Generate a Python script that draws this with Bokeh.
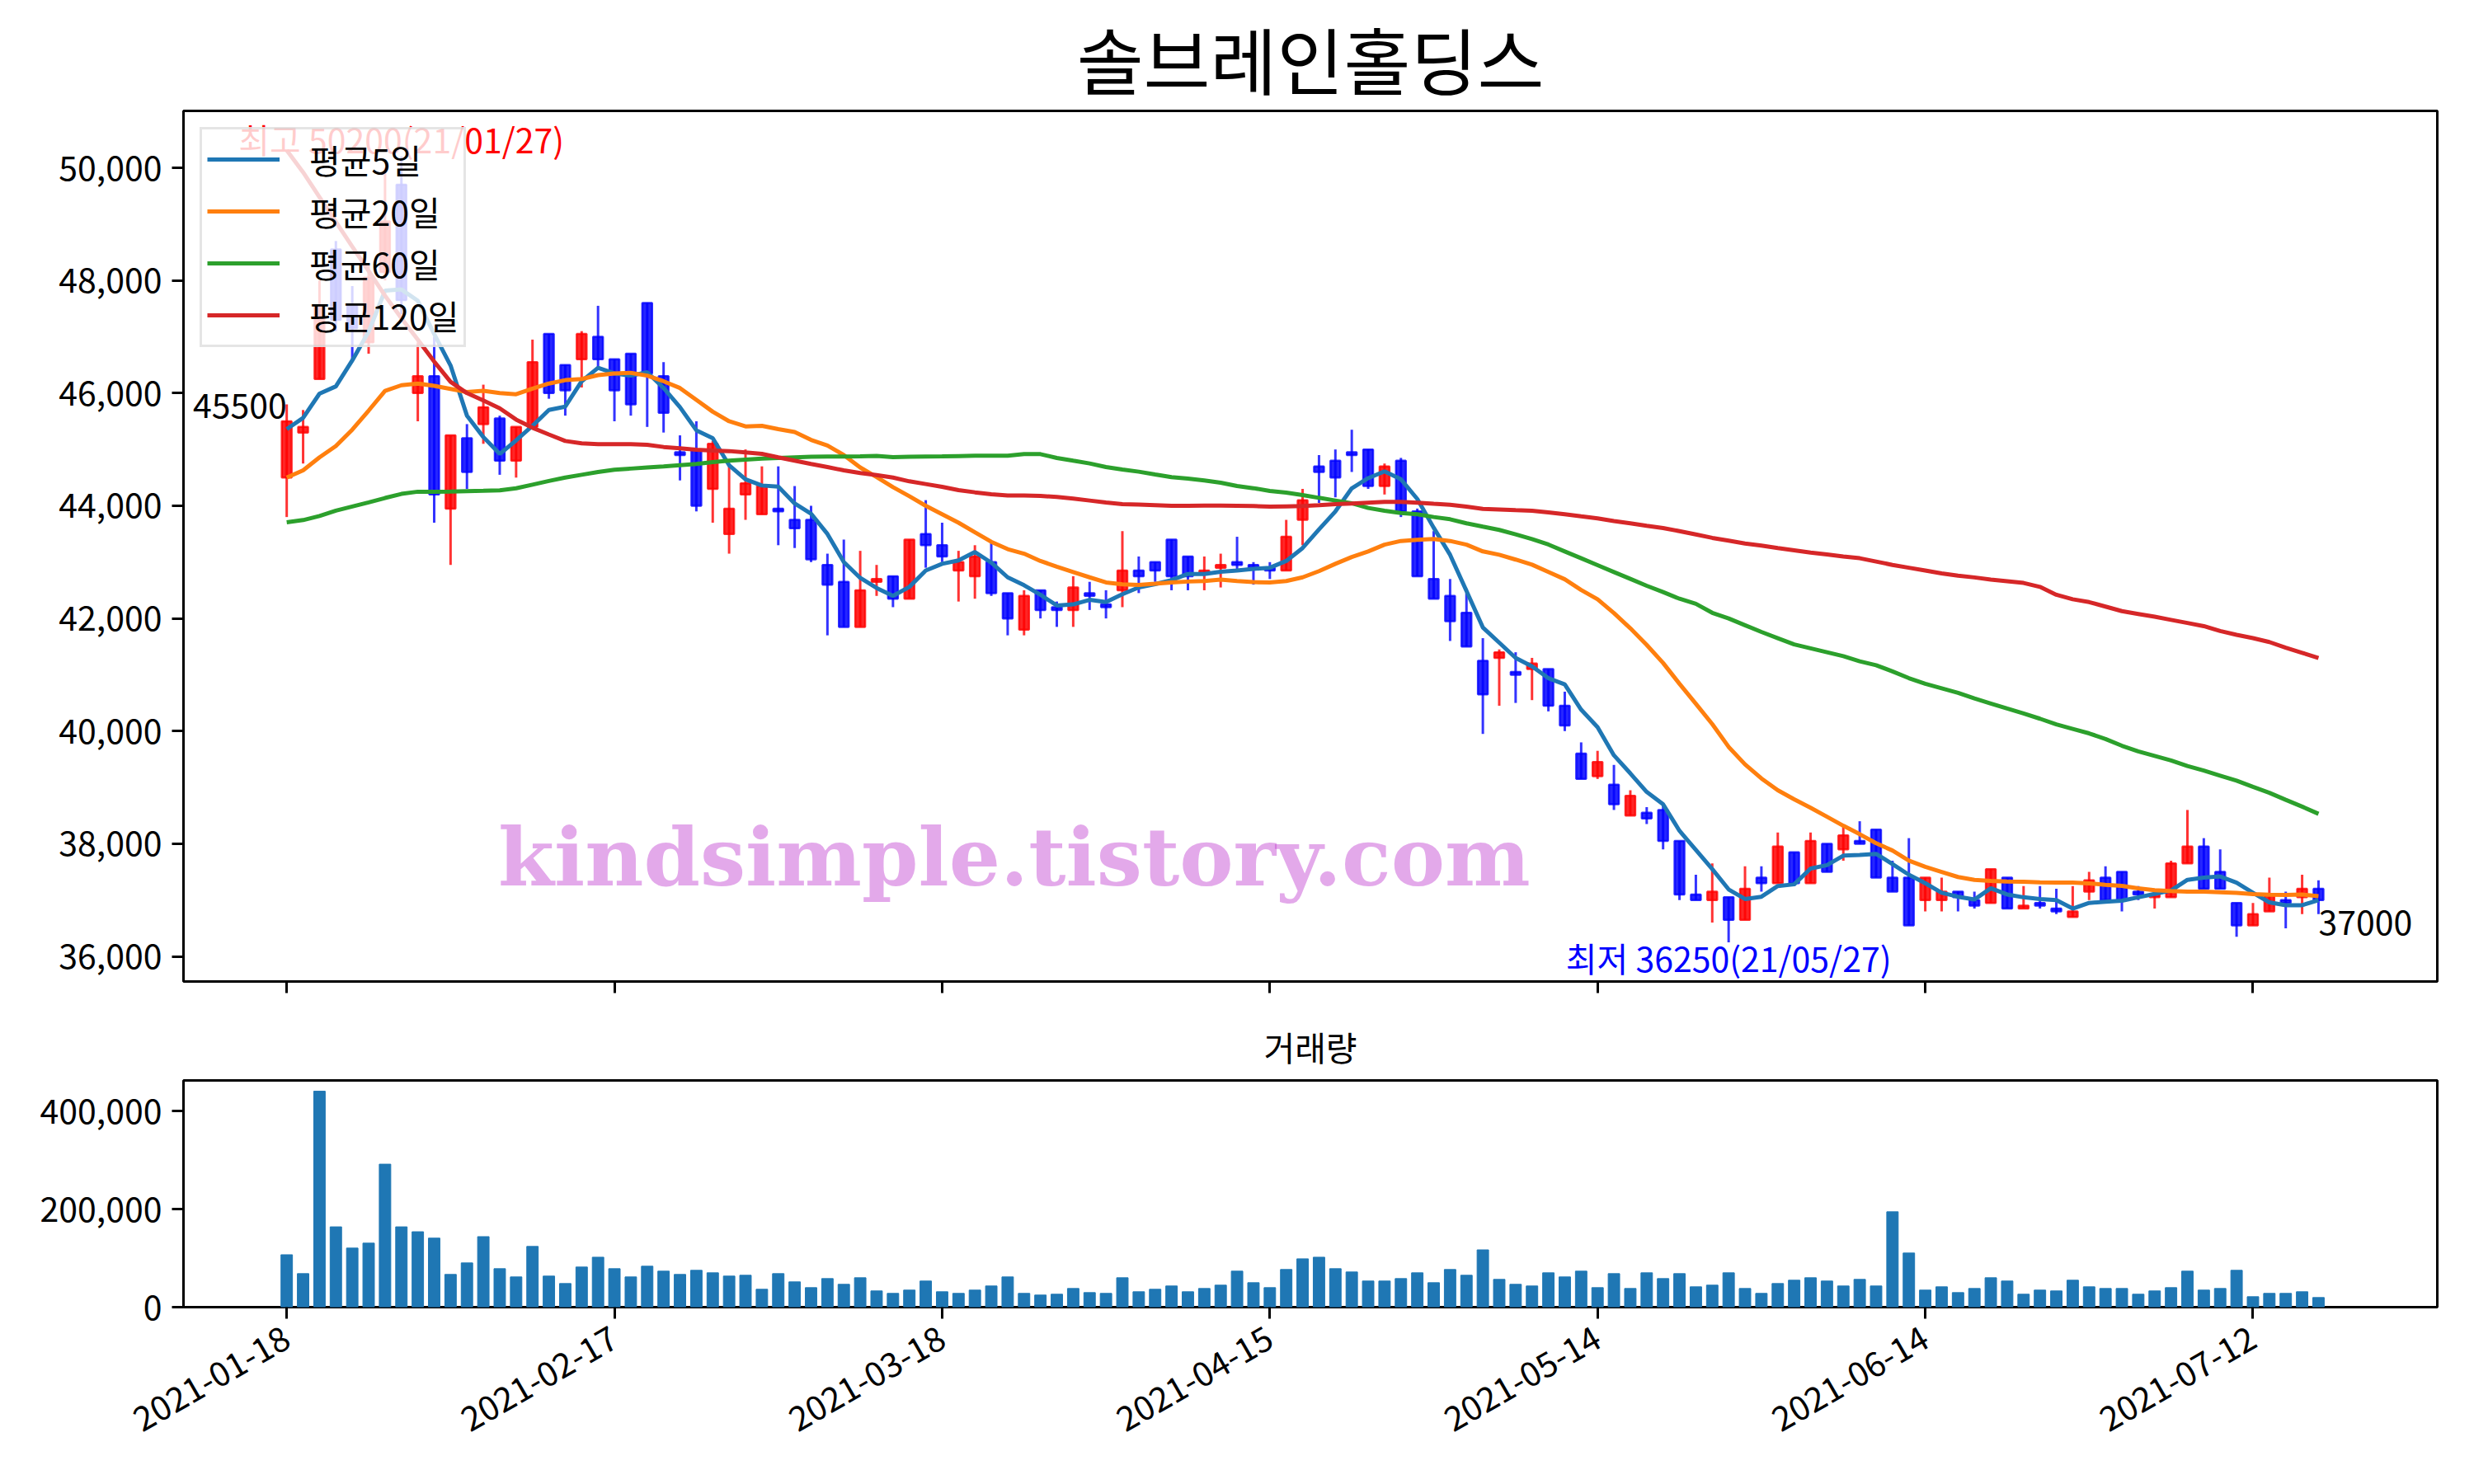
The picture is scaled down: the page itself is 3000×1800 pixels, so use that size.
import math
from bokeh.plotting import figure
from bokeh.models import (ColumnDataSource, Range1d, FixedTicker, SingleIntervalTicker,
                          NumeralTickFormatter, CustomJSTickFormatter)
from bokeh.layouts import column
from bokeh.core.properties import value
from bokeh.embed import file_html
from bokeh.resources import INLINE

FONT = "Noto Sans CJK KR"

chart_title = "솔브레인홀딩스"
volume_title = "거래량"
tick_labels = ["2021-01-18", "2021-02-17", "2021-03-18", "2021-04-15",
               "2021-05-14", "2021-06-14", "2021-07-12"]
max_label = "최고 50200(21/01/27)"
min_label = "최저 36250(21/05/27)"
watermark = "kindsimple.tistory.com"
legend_labels = ["평균5일", "평균20일", "평균60일", "평균120일"]

opens = [44500, 45300, 46250, 48550, 47550, 46900, 48150, 49700, 46000, 46300,
         43950, 45200, 45450, 45550, 44800, 45400, 47050, 46500, 46600, 47000,
         46600, 46700, 47600, 46300, 44950, 45000, 44300, 43500, 44200, 43850,
         43950, 43750, 43750, 42950, 42650, 41850, 42650, 42750, 42350, 43500,
         43300, 42850, 42750, 43000, 42450, 41800, 42500, 42200, 42150, 42450,
         42250, 42500, 42850, 43000, 43400, 43100, 42800, 42900, 43000, 42950,
         42900, 42850, 43750, 44700, 44800, 44950, 45000, 44350, 44800, 43900,
         42700, 42400, 42100, 41250, 41300, 41050, 41100, 41100, 40450, 39600,
         39200, 39050, 38500, 38550, 38600, 38050, 37100, 37000, 37050, 36650,
         37400, 37300, 37850, 37300, 38000, 37900, 38050, 38250, 37400, 37400,
         37000, 37000, 37150, 37000, 36950, 37400, 36850, 36950, 36850, 36700,
         37150, 37400, 37500, 37150, 37050, 37050, 37650, 37950, 37500, 36950,
         36550, 36800, 37000, 37050, 37200]
highs = [45800, 45700, 48000, 48700, 47900, 48300, 50000, 50200, 46900, 47000,
         45250, 45450, 46150, 45600, 45400, 46950, 47050, 46500, 47100, 47550,
         46600, 46700, 47600, 46550, 45250, 45500, 45150, 44700, 45000, 44700,
         44700, 44350, 44000, 43150, 43400, 43200, 42950, 42750, 43400, 44100,
         43700, 43200, 43300, 43350, 42450, 42500, 42500, 42300, 42750, 42650,
         42500, 43550, 43100, 43000, 43400, 43100, 43100, 43150, 43450, 43000,
         43000, 43750, 44300, 44900, 45000, 45350, 45000, 44750, 44850, 43950,
         43550, 42700, 42450, 41650, 41450, 41400, 41300, 41100, 40700, 39800,
         39650, 39400, 38950, 38650, 38700, 38050, 37450, 37650, 37050, 37600,
         37600, 38200, 37850, 38200, 38000, 38300, 38400, 38250, 37700, 38100,
         37400, 37400, 37150, 37150, 37550, 37400, 37250, 37250, 37200, 37250,
         37500, 37600, 37500, 37250, 37150, 37700, 38600, 38100, 37900, 36950,
         36950, 37400, 37150, 37450, 37350]
lows = [43800, 44750, 46250, 47100, 46550, 46700, 48000, 47400, 45500, 43700,
        42950, 44300, 45100, 44550, 44500, 45400, 45900, 45600, 46100, 46450,
        45500, 45600, 45400, 45300, 44450, 43900, 43700, 43150, 43750, 43850,
        43300, 43250, 43000, 41700, 41850, 41850, 42400, 42200, 42350, 42900,
        43000, 42300, 42350, 42400, 41700, 41700, 42000, 41850, 41850, 42150,
        42000, 42200, 42450, 42650, 42500, 42500, 42500, 42550, 42850, 42600,
        42700, 42850, 43300, 44050, 44150, 44600, 44300, 44200, 43800, 42750,
        42350, 41600, 41500, 39950, 40450, 40500, 40550, 40350, 40000, 39150,
        39150, 38600, 38500, 38350, 37900, 37000, 37000, 36600, 36250, 36650,
        37150, 37300, 37250, 37300, 37500, 37700, 38000, 37400, 37150, 36550,
        36800, 36800, 36800, 36850, 36950, 36850, 36850, 36850, 36750, 36700,
        37000, 36950, 36800, 37000, 36850, 37050, 37650, 37200, 37200, 36350,
        36550, 36800, 36500, 36750, 36750]
closes = [45500, 45400, 47550, 47300, 47150, 48050, 49050, 47650, 46300, 44200,
          45250, 44600, 45750, 44800, 45400, 46550, 46000, 46050, 47050, 46600,
          46050, 45800, 46350, 45650, 44900, 44000, 45100, 43950, 44400, 44350,
          43900, 43600, 43050, 42600, 41850, 42500, 42700, 42350, 43400, 43300,
          43100, 43000, 43100, 42450, 42000, 42400, 42150, 42150, 42550, 42400,
          42200, 42850, 42750, 42850, 42750, 42750, 42850, 42950, 42950, 42900,
          42850, 43450, 44100, 44600, 44500, 44900, 44350, 44700, 43900, 42750,
          42350, 41950, 41500, 40650, 41400, 41000, 41200, 40450, 40100, 39150,
          39450, 38700, 38850, 38450, 38050, 37100, 37000, 37150, 36650, 37200,
          37300, 37950, 37300, 38050, 37500, 38150, 38000, 37400, 37150, 36550,
          37400, 37150, 37050, 36900, 37550, 36850, 36900, 36900, 36800, 36800,
          37350, 37000, 37000, 37100, 37100, 37650, 37950, 37200, 37200, 36550,
          36750, 37100, 36950, 37200, 37000]
volumes = [107000, 68400, 441000, 164000, 120600, 130700, 292000, 164000, 154000, 141000,
           66800, 90300, 144000, 78500, 61700, 124000, 63400, 48200, 81900, 102000,
           78500, 61700, 83600, 73500, 66800, 75200, 70100, 63400, 65100, 36500,
           68400, 51600, 39800, 58300, 46600, 60000, 33100, 28100, 34800, 53300,
           31400, 28100, 34800, 43200, 61700, 28100, 24700, 26400, 38100, 29700,
           28100, 60000, 31400, 36500, 43200, 31400, 38100, 44900, 73500, 49900,
           39800, 76900, 98700, 102000, 78500, 71800, 53300, 53300, 58300, 70100,
           49900, 76900, 65100, 117000, 56700, 46600, 43200, 70100, 61700, 73500,
           39800, 68400, 38100, 70100, 58300, 68400, 41500, 44900, 70100, 38100,
           28100, 48200, 55000, 60000, 53300, 43200, 56700, 43200, 194700, 110500,
           34800, 41500, 29700, 38100, 60000, 53300, 26400, 34800, 33100, 55000,
           41500, 38100, 38100, 26400, 33100, 39800, 73500, 34800, 38100, 75200,
           21300, 28100, 28100, 31400, 19600]

ma5 = [45360, 45560, 45990, 46120, 46580, 47090, 47820, 47840, 47640, 47050,
       46490, 45600, 45220, 44920, 45160, 45420, 45700, 45760, 46210, 46450,
       46350, 46310, 46370, 46090, 45750, 45340, 45200, 44720, 44470, 44360,
       44340, 44040, 43860, 43500, 43000, 42720, 42540, 42400, 42560, 42850,
       42970, 43030, 43180, 42990, 42730, 42590, 42420, 42230, 42250, 42330,
       42290, 42430, 42550, 42610, 42680, 42790, 42790, 42830, 42850, 42880,
       42900, 43020, 43250, 43580, 43900, 44310, 44490, 44610, 44470, 44120,
       43610, 43130, 42490, 41840, 41570, 41300, 41150, 40940, 40830, 40380,
       40070, 39570, 39250, 38920, 38700, 38230, 37890, 37550, 37190, 37020,
       37060, 37250, 37280, 37560, 37620, 37790, 37800, 37820, 37640, 37450,
       37300, 37130, 37060, 37010, 37210, 37100, 37050, 37020, 37000, 36850,
       36950, 36970, 36990, 37050, 37110, 37170, 37360, 37400, 37420, 37310,
       37130, 36960, 36910, 36910, 37000]
ma20 = [44500, 44630, 44860, 45060, 45350, 45690, 46040, 46140, 46170, 46130,
        46075, 46020, 46040, 46000, 45980, 46080, 46170, 46230, 46250, 46320,
        46350, 46360, 46310, 46210, 46090, 45880, 45670, 45500, 45410, 45420,
        45360, 45310, 45170, 45070, 44900, 44680, 44510, 44330, 44170, 44000,
        43850, 43700, 43530, 43360, 43230, 43150, 43020, 42920, 42825, 42730,
        42640, 42605, 42595, 42615, 42640, 42655, 42665, 42690, 42665, 42645,
        42640, 42665, 42730, 42840, 42970, 43090, 43190, 43310, 43375, 43395,
        43410, 43375, 43310, 43190, 43130, 43045, 42955, 42825, 42695, 42505,
        42340, 42095, 41825, 41530, 41210, 40840, 40485, 40125, 39720, 39410,
        39160, 38950, 38790, 38640, 38480, 38320, 38170, 38010, 37880, 37700,
        37590, 37500, 37410, 37360, 37340, 37330, 37325, 37315, 37313, 37310,
        37298, 37270, 37254, 37210, 37175, 37160, 37152, 37152, 37140, 37130,
        37105, 37095, 37093, 37100, 37070]
ma60 = [43707, 43746, 43819, 43914, 43987, 44060, 44138, 44211, 44250, 44250,
        44252, 44260, 44265, 44273, 44310, 44375, 44440, 44500, 44550, 44600,
        44640, 44660, 44680, 44700, 44722, 44741, 44776, 44800, 44820, 44839,
        44849, 44859, 44869, 44873, 44873, 44878, 44885, 44862, 44869, 44874,
        44878, 44883, 44888, 44888, 44888, 44917, 44917, 44849, 44800, 44752,
        44688, 44644, 44605, 44556, 44508, 44483, 44449, 44410, 44351, 44312,
        44264, 44234, 44190, 44141, 44093, 44044, 43961, 43912, 43873, 43849,
        43800, 43761, 43688, 43629, 43571, 43493, 43410, 43312, 43190, 43068,
        42946, 42824, 42702, 42580, 42468, 42350, 42260, 42100, 42000, 41880,
        41760, 41650, 41540, 41470, 41400, 41330, 41240, 41170, 41060, 40940,
        40840, 40760, 40680, 40580, 40490, 40400, 40313, 40220, 40120, 40040,
        39960, 39860, 39740, 39640, 39560, 39480, 39380, 39300, 39210, 39120,
        39010, 38905, 38780, 38660, 38532]
ma120 = [50310, 49920, 49480, 49040, 48600, 48170, 47730, 47330, 46950, 46560,
         46200, 46000, 45870, 45730, 45530, 45385, 45265, 45150, 45107, 45093,
         45093, 45093, 45083, 45044, 45020, 44995, 44981, 44971, 44946, 44922,
         44859, 44800, 44742, 44688, 44629, 44581, 44546, 44500, 44434, 44386,
         44337, 44278, 44239, 44205, 44181, 44181, 44176, 44156, 44127, 44093,
         44059, 44030, 44020, 44010, 44000, 44000, 44005, 44005, 44000, 43995,
         43985, 43990, 43995, 44010, 44029, 44040, 44054, 44068, 44068, 44054,
         44035, 44019, 43985, 43946, 43935, 43922, 43912, 43883, 43849, 43812,
         43776, 43730, 43688, 43645, 43605, 43550, 43490, 43430, 43380, 43330,
         43294, 43250, 43210, 43170, 43135, 43100, 43069, 43010, 42950, 42900,
         42850, 42800, 42760, 42728, 42690, 42660, 42630, 42560, 42420, 42340,
         42290, 42210, 42130, 42080, 42030, 41975, 41920, 41864, 41776, 41710,
         41650, 41581, 41480, 41390, 41298]

n = len(closes)
idx = list(range(n))
up = [c >= o for o, c in zip(opens, closes)]
colors = ["red" if u else "blue" for u in up]
src = ColumnDataSource(dict(
    x=idx, o=opens, h=highs, l=lows, c=closes,
    top=[max(o, c) for o, c in zip(opens, closes)],
    bot=[min(o, c) for o, c in zip(opens, closes)],
    col=colors, vol=volumes))

W = 2970
x_rng = Range1d(-6.3, 131.25)

p1 = figure(width=W, height=1210, x_range=x_rng, y_range=Range1d(35555, 51010),
            output_backend="svg", toolbar_location=None,
            min_border_left=222, min_border_right=15, min_border_top=134, min_border_bottom=20)
p1.title.text = chart_title
p1.title.text_font = FONT
p1.title.text_font_size = "88px"
p1.title.text_font_style = "normal"
p1.title.text_color = "black"
p1.title.align = "center"
p1.title.standoff = 4

# candles
p1.segment(x0="x", y0="l", x1="x", y1="h", source=src, line_color="col",
           line_alpha=0.8, line_width=3)
p1.vbar(x="x", width=0.6, top="top", bottom="bot", source=src, fill_color="col",
        fill_alpha=0.85, line_color="col", line_alpha=0.8, line_width=2.5)

# watermark
p1.text(x=[44.4], y=[37760], text=[watermark], text_color="#c040d0", text_alpha=0.45,
        text_align="center", text_baseline="middle", text_font=value("DejaVu Serif"),
        text_font_style="bold", text_font_size="98px")

ma_colors = ["#1f77b4", "#ff7f0e", "#2ca02c", "#d62728"]
for series, colr, lab in zip([ma5, ma20, ma60, ma120], ma_colors, legend_labels):
    p1.line(idx, series, line_color=colr, line_width=5, legend_label=lab)

# annotations
imax = highs.index(max(highs))
imin = lows.index(min(lows))
p1.text(x=[imax], y=[highs[imax]], text=[max_label], text_color="red", text_align="center",
        text_baseline="bottom", text_font=value(FONT), text_font_size="41px", y_offset=8)
p1.text(x=[imin], y=[lows[imin]], text=[min_label], text_color="blue", text_align="center",
        text_baseline="top", text_font=value(FONT), text_font_size="41px", y_offset=-12)
p1.text(x=[0], y=[closes[0]], text=[str(closes[0])], text_color="black", text_align="right",
        text_baseline="bottom", text_font=value(FONT), text_font_size="41px", y_offset=-4)
p1.text(x=[n - 1], y=[closes[-1]], text=[str(closes[-1])], text_color="black", text_align="left",
        text_baseline="top", text_font=value(FONT), text_font_size="41px", y_offset=12)

lg = p1.legend[0]
lg.location = "top_left"
lg.margin = 20
lg.padding = 6
lg.spacing = 3
lg.label_text_font = FONT
lg.label_text_font_size = "41px"
lg.label_text_color = "black"
lg.glyph_width = 88
lg.glyph_height = 42
lg.label_height = 42
lg.label_standoff = 36
lg.border_line_color = "#cccccc"
lg.border_line_width = 3
lg.background_fill_alpha = 0.8

tick_pos = list(range(0, n, 20))[:len(tick_labels)]

def style(p):
    p.xgrid.visible = False
    p.ygrid.visible = False
    p.outline_line_color = "black"
    p.outline_line_width = 3
    p.background_fill_color = "white"
    for ax in [p.xaxis[0], p.yaxis[0]]:
        ax.axis_line_color = None
        ax.major_tick_line_width = 3
        ax.major_tick_out = 14
        ax.major_tick_in = 0
        ax.minor_tick_line_color = None
        ax.major_label_text_font = FONT
        ax.major_label_text_font_size = "41px"
        ax.major_label_text_color = "black"
        ax.major_label_standoff = 12
    p.xaxis.ticker = FixedTicker(ticks=tick_pos)

style(p1)
p1.yaxis.ticker = SingleIntervalTicker(interval=2000, num_minor_ticks=0)
p1.yaxis.formatter = NumeralTickFormatter(format="0,0")
p1.xaxis.formatter = CustomJSTickFormatter(code="return ''")

p2 = figure(width=W, height=575, x_range=x_rng, y_range=Range1d(0, 463000),
            output_backend="svg", toolbar_location=None,
            min_border_left=222, min_border_right=15, min_border_top=100, min_border_bottom=200)
p2.title.text = volume_title
p2.title.text_font = FONT
p2.title.text_font_size = "41px"
p2.title.text_font_style = "normal"
p2.title.text_color = "black"
p2.title.align = "center"
p2.title.standoff = 24
p2.vbar(x="x", top="vol", width=0.7, source=src, color="#1f77b4")
style(p2)
p2.yaxis.ticker = SingleIntervalTicker(interval=200000, num_minor_ticks=0)
p2.yaxis.formatter = NumeralTickFormatter(format="0,0")
p2.xaxis.major_label_overrides = {t: lab for t, lab in zip(tick_pos, tick_labels)}
p2.xaxis.major_label_orientation = math.pi / 6
p2.xaxis.major_label_standoff = 20

layout = column(p1, p2)
open("out.html", "w").write(file_html(layout, INLINE))
